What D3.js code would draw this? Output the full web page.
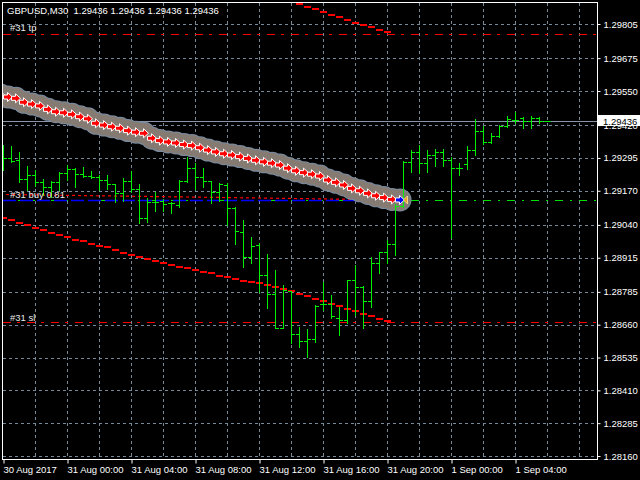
<!DOCTYPE html>
<html><head><meta charset="utf-8">
<script src="https://cdn.jsdelivr.net/npm/d3@7"></script>
<style>html,body{margin:0;padding:0;background:#000;}svg{display:block;}</style>
</head><body>
<svg id="c" width="640" height="480"></svg>
<script>
const titleText = "GBPUSD,M30  1.29436 1.29436 1.29436 1.29436";
const priceTicks = [1.29805,1.29675,1.29550,1.29420,1.29295,1.29170,1.29040,1.28915,1.28785,1.28660,1.28535,1.28410,1.28285,1.28160];
const timeLabels = ["30 Aug 2017","31 Aug 00:00","31 Aug 04:00","31 Aug 08:00","31 Aug 12:00","31 Aug 16:00","31 Aug 20:00","1 Sep 00:00","1 Sep 04:00"];
const timeLabelBars = [0,8,16,24,32,40,48,56,64];
const bidPrice = 1.29436;

const opens = [1.29325,1.29295,1.29287,1.29215,1.29230,1.29203,1.29184,1.29203,1.29238,1.29253,1.29234,1.29226,1.29222,1.29211,1.29196,1.29161,1.29207,1.29177,1.29066,1.29127,1.29131,1.29123,1.29116,1.29207,1.29257,1.29222,1.29207,1.29165,1.29192,1.29104,1.29013,1.28918,1.28963,1.28849,1.28777,1.28647,1.28788,1.28625,1.28598,1.28606,1.28739,1.28739,1.28685,1.28678,1.28830,1.28803,1.28750,1.28895,1.28937,1.28967,1.29112,1.29280,1.29318,1.29276,1.29306,1.29318,1.29287,1.29257,1.29272,1.29325,1.29398,1.29356,1.29379,1.29417,1.29439,1.29447,1.29436,1.29447,1.29436];
const highs = [1.29344,1.29340,1.29318,1.29264,1.29249,1.29215,1.29207,1.29241,1.29268,1.29257,1.29260,1.29245,1.29230,1.29230,1.29196,1.29219,1.29245,1.29196,1.29142,1.29165,1.29139,1.29127,1.29211,1.29299,1.29276,1.29257,1.29207,1.29200,1.29200,1.29108,1.29059,1.28994,1.28971,1.28929,1.28868,1.28811,1.28788,1.28651,1.28644,1.28735,1.28823,1.28773,1.28727,1.28830,1.28887,1.28807,1.28918,1.28937,1.28982,1.29120,1.29283,1.29325,1.29344,1.29325,1.29329,1.29329,1.29299,1.29276,1.29340,1.29443,1.29417,1.29390,1.29420,1.29455,1.29470,1.29451,1.29455,1.29451,1.29436];
const lows = [1.29249,1.29280,1.29203,1.29173,1.29188,1.29154,1.29146,1.29173,1.29211,1.29184,1.29222,1.29219,1.29173,1.29177,1.29127,1.29131,1.29165,1.29047,1.29051,1.29093,1.29093,1.29085,1.29108,1.29203,1.29177,1.29184,1.29123,1.29131,1.29040,1.28967,1.28880,1.28895,1.28785,1.28724,1.28647,1.28647,1.28590,1.28575,1.28537,1.28594,1.28716,1.28685,1.28621,1.28666,1.28697,1.28647,1.28727,1.28857,1.28895,1.28925,1.29108,1.29241,1.29238,1.29241,1.29264,1.29264,1.28990,1.29230,1.29253,1.29306,1.29348,1.29352,1.29375,1.29413,1.29428,1.29409,1.29409,1.29428,1.29436];
const closes = [1.29295,1.29283,1.29215,1.29230,1.29203,1.29184,1.29203,1.29238,1.29253,1.29234,1.29226,1.29222,1.29211,1.29196,1.29161,1.29207,1.29177,1.29066,1.29127,1.29127,1.29120,1.29123,1.29207,1.29257,1.29222,1.29207,1.29165,1.29196,1.29104,1.29017,1.28918,1.28960,1.28849,1.28777,1.28647,1.28792,1.28625,1.28598,1.28606,1.28731,1.28739,1.28693,1.28678,1.28830,1.28803,1.28750,1.28895,1.28937,1.28967,1.29112,1.29280,1.29318,1.29276,1.29306,1.29318,1.29287,1.29257,1.29257,1.29325,1.29398,1.29356,1.29379,1.29417,1.29443,1.29439,1.29436,1.29447,1.29436,1.29436];

// signal line (gray band with arrows), bar 0..50; last one is the entry
const signalLine = [1.29535,1.29527,1.29522,1.29507,1.29500,1.29493,1.29480,1.29471,1.29467,1.29461,1.29452,1.29444,1.29427,1.29420,1.29414,1.29408,1.29399,1.29393,1.29389,1.29370,1.29361,1.29356,1.29352,1.29346,1.29342,1.29334,1.29325,1.29318,1.29311,1.29306,1.29300,1.29293,1.29286,1.29280,1.29275,1.29268,1.29256,1.29246,1.29239,1.29233,1.29226,1.29211,1.29202,1.29192,1.29179,1.29170,1.29160,1.29151,1.29144,1.29137,1.29135];

// red stepped channel lines
const upperChannelStart = 37;
const upperChannel = [1.29880,1.29870,1.29861,1.29850,1.29838,1.29831,1.29819,1.29810,1.29800,1.29792,1.29781,1.29773];
const lowerChannel = [1.29067,1.29058,1.29048,1.29040,1.29028,1.29021,1.29011,1.29002,1.28994,1.28984,1.28977,1.28967,1.28960,1.28955,1.28946,1.28933,1.28924,1.28917,1.28910,1.28904,1.28896,1.28888,1.28881,1.28875,1.28867,1.28859,1.28855,1.28847,1.28840,1.28833,1.28828,1.28821,1.28818,1.28810,1.28802,1.28795,1.28787,1.28776,1.28768,1.28757,1.28749,1.28738,1.28730,1.28719,1.28711,1.28700,1.28692,1.28681,1.28673];

// order levels
const orderLabels = ["#31 tp","#31 buy 0.81","#31 sl"];
const orderLevels = [1.29766,1.29135,1.28665];
const historyLine = [{bar:0, price:1.29156},{bar:50, price:1.29135}];

const svg = d3.select("#c");
const L=3, T=3, R=597, B=459;
const x = d3.scaleLinear().domain([0,74.25]).range([3.5,597.5]);
const y = d3.scaleLinear().domain([1.28160,1.29805]).range([456,24]);
const yc = v => Math.round(y(v)) + 0.5;
const FONT = "'Liberation Sans', Arial, sans-serif";

svg.append("rect").attr("width",640).attr("height",480).attr("fill","#000");
svg.append("defs").append("clipPath").attr("id","clip")
  .append("rect").attr("x",L).attr("y",T).attr("width",R-L).attr("height",B-T);
const plot = svg.append("g").attr("clip-path","url(#clip)");

// grid
const gridBars = d3.range(4, 74, 4);
plot.append("g").selectAll("line").data(priceTicks).join("line")
  .attr("x1",L).attr("x2",R).attr("y1",d=>yc(d)).attr("y2",d=>yc(d))
  .attr("stroke","#778899").attr("stroke-dasharray","3,3");
plot.append("g").selectAll("line").data(gridBars).join("line")
  .attr("x1",d=>x(d)).attr("x2",d=>x(d)).attr("y1",T).attr("y2",B)
  .attr("stroke","#778899").attr("stroke-dasharray","3,3");

// bid line
plot.append("line").attr("x1",L).attr("x2",R).attr("y1",yc(bidPrice)).attr("y2",yc(bidPrice))
  .attr("stroke","#8796a8").attr("stroke-width",1);

// order level lines
plot.append("line").attr("x1",L).attr("x2",R).attr("y1",yc(orderLevels[0])).attr("y2",yc(orderLevels[0]))
  .attr("stroke","#ff0000").attr("stroke-dasharray","8,6,3,7");
plot.append("line").attr("x1",L).attr("x2",R).attr("y1",yc(orderLevels[2])-1).attr("y2",yc(orderLevels[2])-1)
  .attr("stroke","#ff0000").attr("stroke-dasharray","8,6,3,7");
plot.append("line").attr("x1",L).attr("x2",R).attr("y1",yc(orderLevels[1])).attr("y2",yc(orderLevels[1]))
  .attr("stroke","#00e000").attr("stroke-dasharray","8,7,2,7");
plot.append("line").attr("x1",L).attr("x2",x(historyLine[1].bar)-3.5).attr("y1",yc(orderLevels[1])).attr("y2",yc(orderLevels[1]))
  .attr("stroke","#0000ff").attr("stroke-width",1.5).attr("stroke-dasharray","13,4");
plot.append("line")
  .attr("x1",x(historyLine[0].bar)-3.5).attr("y1",y(historyLine[0].price))
  .attr("x2",x(historyLine[1].bar)-3.5).attr("y2",y(historyLine[1].price))
  .attr("stroke","#ff0000").attr("stroke-width",1.2).attr("stroke-dasharray","3,3");

// channel steps
plot.append("g").selectAll("rect").data(upperChannel).join("rect")
  .attr("x",(d,i)=>x(upperChannelStart+i)-3.5).attr("y",d=>Math.round(y(d))-1)
  .attr("width",7).attr("height",2).attr("fill","#ff0000");
plot.append("g").selectAll("rect").data(lowerChannel).join("rect")
  .attr("x",(d,i)=>x(i)-3.5).attr("y",d=>Math.round(y(d))-1)
  .attr("width",7).attr("height",2).attr("fill","#ff0000");

// gray band (overlapping discs)
const sig = signalLine.map((v,i)=>({i, v, cx:x(i)-3.5, cy:y(v)}));
const band = plot.append("g");
band.selectAll("circle.o").data(sig).join("circle").attr("class","o")
  .attr("cx",d=>d.cx).attr("cy",d=>d.cy).attr("r",11.5)
  .attr("fill","#7a8ba0");
band.selectAll("circle.f").data(sig).join("circle").attr("class","f")
  .attr("cx",d=>d.cx).attr("cy",d=>d.cy).attr("r",10.5)
  .attr("fill","#857b72");

// bars
const bars = plot.append("g").attr("stroke","#00ee00").attr("stroke-width",1);
opens.forEach((o,k)=>{
  const bx = x(k);
  bars.append("line").attr("x1",bx).attr("x2",bx).attr("y1",Math.round(y(highs[k]))).attr("y2",Math.round(y(lows[k]))+1);
  bars.append("line").attr("x1",bx-3.5).attr("x2",bx).attr("y1",yc(o)).attr("y2",yc(o));
  bars.append("line").attr("x1",bx).attr("x2",bx+3.5).attr("y1",yc(closes[k])).attr("y2",yc(closes[k]));
});

// arrows
const arrowPath = (cx,cy)=>`M${cx-4.5},${cy-2}H${cx-0.5}V${cy-4.5}L${cx+4.5},${cy}L${cx-0.5},${cy+4.5}V${cy+2}H${cx-4.5}Z`;
plot.append("g").selectAll("path").data(sig).join("path")
  .attr("d",d=>arrowPath(d.cx,d.cy))
  .attr("fill",d=>d.i===historyLine[1].bar?"#0000ff":"#ff0000")
  .attr("stroke","#ffffff").attr("stroke-width",1);
const e = sig[sig.length-1];
plot.append("path").attr("d",`M${e.cx+7.5},${e.cy-4}L${e.cx+7.5},${e.cy+4}L${e.cx+3.5},${e.cy}Z`)
  .attr("fill","#f0a020").attr("stroke","#ffe0a0").attr("stroke-width",0.8);

// order labels
const labelOffsets = [-3.5,-2.5,-2.5];
plot.append("g").selectAll("text").data(orderLabels).join("text")
  .attr("x",10).attr("y",(d,i)=>yc(orderLevels[i])+labelOffsets[i])
  .attr("fill","#e8e8e8").attr("font-family",FONT).attr("font-size","9.5px").text(d=>d);

// title
svg.append("text").attr("x",7).attr("y",14).attr("fill","#ffffff")
  .attr("font-family",FONT).attr("font-size","9.5px").attr("xml:space","preserve").text(titleText);

// frame
svg.append("rect").attr("x",2.5).attr("y",2.5).attr("width",595).attr("height",457)
  .attr("fill","none").attr("stroke","#ffffff");

// axes
const ax = svg.append("g").attr("transform","translate(597.5,0)")
  .call(d3.axisRight(y).tickValues(priceTicks).tickFormat(d3.format(".5f")).tickSize(3).tickPadding(3));
ax.select(".domain").remove();
ax.selectAll("line").attr("stroke","#ffffff");
ax.selectAll("text").attr("fill","#ffffff").attr("font-family",FONT).attr("font-size","9.5px");

const bx = svg.append("g").attr("transform","translate(0,459.5)")
  .call(d3.axisBottom(x).tickValues(timeLabelBars).tickFormat((d,i)=>timeLabels[i]).tickSize(4).tickPadding(3));
bx.select(".domain").remove();
bx.selectAll("line").attr("stroke","#ffffff");
bx.selectAll("text").attr("fill","#ffffff").attr("font-family",FONT).attr("font-size","9.5px")
  .attr("text-anchor","start").attr("x",-0.5);

// bid price box
const by = y(bidPrice);
svg.append("rect").attr("x",598).attr("y",Math.round(by)-6).attr("width",42).attr("height",11).attr("fill","#ffffff");
svg.append("text").attr("x",603).attr("y",Math.round(by)+3.5).attr("fill","#000000")
  .attr("font-family",FONT).attr("font-size","9.5px").text(d3.format(".5f")(bidPrice));
</script>
</body></html>
